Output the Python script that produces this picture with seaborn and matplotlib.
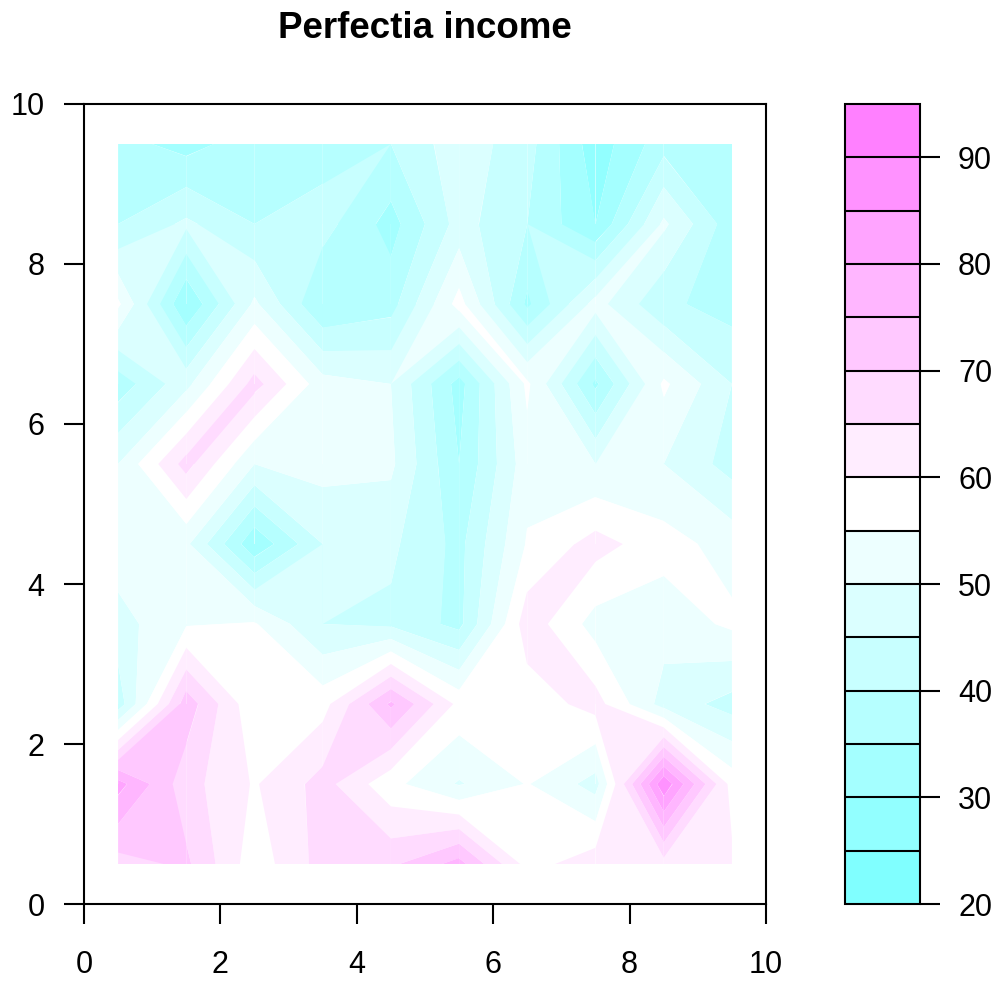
import colorsys

import matplotlib
matplotlib.use("Agg")
import matplotlib.pyplot as plt
from matplotlib.cm import ScalarMappable
from matplotlib.collections import PolyCollection
from matplotlib.colors import BoundaryNorm, ListedColormap
import numpy as np
import seaborn as sns

# Grid cell centres
x_centers = [0.5, 1.5, 2.5, 3.5, 4.5, 5.5, 6.5, 7.5, 8.5, 9.5]
y_centers = [0.5, 1.5, 2.5, 3.5, 4.5, 5.5, 6.5, 7.5, 8.5, 9.5]

# Income per cell, one list per row (y = 0.5 ... 9.5)
income_y0 = [68, 71, 57, 67, 69, 77, 58, 63, 63, 61]
income_y1 = [82, 67, 59.5, 67, 56.5, 49.5, 55.3, 48, 89, 58]
income_y2 = [42, 73, 56, 58, 76, 58.5, 57, 62, 48, 43]
income_y3 = [48, 54.5, 55.5, 45, 44, 38.5, 63, 53, 52, 56]
income_y4 = [53, 51, 31, 45, 46, 38.5, 55.5, 62, 57, 53]
income_y5 = [50, 67, 50, 52, 51, 35, 53, 50, 50, 43]
income_y6 = [37, 48.5, 67, 52, 50, 33, 56, 34, 56, 45]
income_y7 = [56, 30, 51, 35, 38, 57, 34, 52, 41, 38]
income_y8 = [40, 46, 40, 42, 33, 47, 40, 30, 51, 37]
income_y9 = [37, 33, 38, 38, 40, 48, 42, 27, 38, 37]

levels = [20, 25, 30, 35, 40, 45, 50, 55, 60, 65, 70, 75, 80, 85, 90, 95]
colorbar_ticks = [20, 30, 40, 50, 60, 70, 80, 90]
axis_ticks = [0, 2, 4, 6, 8, 10]
title = "Perfectia income"


def cm_colors(n):
    """Cyan-white-magenta palette (same construction as R's cm.colors)."""
    even = n % 2 == 0
    k = n // 2
    l1 = k + 1 - int(even)
    l2 = n - k + int(even)
    cols = []
    for s in np.linspace(0.5, 0.5 / k if even else 0.0, l1):
        cols.append(colorsys.hsv_to_rgb(6 / 12, s, 1.0))
    for s in np.linspace(0.0, 0.5, l2)[1:]:
        cols.append(colorsys.hsv_to_rgb(10 / 12, s, 1.0))
    return cols


def edge_cuts(low, high, p1, z1, p2, z2):
    """Points of one cell edge (p1 -> p2) that bound the band [low, high]."""
    def at(level):
        t = (level - z1) / (z2 - z1)
        return (p1[0] + t * (p2[0] - p1[0]), p1[1] + t * (p2[1] - p1[1]))

    pts = []
    if z1 > z2:
        if z2 > high or z1 < low:
            return pts
        pts.append(p1 if z1 < high else at(high))
        if z2 < low:
            pts.append(at(low))
    elif z1 < z2:
        if z2 < low or z1 > high:
            return pts
        pts.append(p1 if z1 > low else at(low))
        if z2 > high:
            pts.append(at(high))
    elif low <= z1 <= high:
        pts.append(p1)
    return pts


def band_polygons(xs, ys, z, low, high):
    """Per-cell polygons of the region low <= z <= high (linear along edges)."""
    polys = []
    for j in range(len(ys) - 1):
        for i in range(len(xs) - 1):
            corners = [((xs[i], ys[j]), z[j, i]),
                       ((xs[i + 1], ys[j]), z[j, i + 1]),
                       ((xs[i + 1], ys[j + 1]), z[j + 1, i + 1]),
                       ((xs[i], ys[j + 1]), z[j + 1, i])]
            pts = []
            for c in range(4):
                (pa, za), (pb, zb) = corners[c], corners[(c + 1) % 4]
                pts.extend(edge_cuts(low, high, pa, za, pb, zb))
            if len(pts) > 2:
                polys.append(pts)
    return polys


sns.set_theme(style="ticks", rc={
    "axes.edgecolor": "black",
    "axes.linewidth": 1.5,
    "text.color": "black",
    "xtick.color": "black",
    "ytick.color": "black",
    "axes.facecolor": "white",
})
plt.rcParams["font.family"] = ["Liberation Sans", "DejaVu Sans"]

Z = np.array([income_y0, income_y1, income_y2, income_y3, income_y4,
              income_y5, income_y6, income_y7, income_y8, income_y9], float)
palette = cm_colors(len(levels) - 1)
cmap = ListedColormap(palette)
norm = BoundaryNorm(levels, cmap.N)

W, H = 1003, 982
fig = plt.figure(figsize=(W / 100, H / 100), dpi=100)
ax = fig.add_axes([84 / W, 78 / H, 682 / W, 800 / H])
cax = fig.add_axes([845 / W, 78 / H, 75 / W, 800 / H])

# Filled contour bands, drawn from the lowest level upwards
for k in range(len(levels) - 1):
    polys = band_polygons(x_centers, y_centers, Z, levels[k], levels[k + 1])
    if polys:
        ax.add_collection(PolyCollection(polys, facecolors=[palette[k]],
                                         edgecolors="none", linewidths=0,
                                         antialiased=True))

ax.set_xlim(0, 10)
ax.set_ylim(0, 10)
ax.set_xticks(axis_ticks)
ax.set_yticks(axis_ticks)
ax.tick_params(axis="both", direction="out", length=14.4, width=1.5,
               labelsize=22)
ax.tick_params(axis="x", pad=19)
ax.tick_params(axis="y", pad=14)
for sp in ax.spines.values():
    sp.set_visible(True)
    sp.set_linewidth(1.5)

sm = ScalarMappable(norm=norm, cmap=cmap)
cb = fig.colorbar(sm, cax=cax, ticks=colorbar_ticks, drawedges=True)
cb.minorticks_off()
cb.outline.set_linewidth(1.5)
cb.outline.set_edgecolor("black")
cb.dividers.set_color("black")
cb.dividers.set_linewidth(1.5)
cax.tick_params(axis="y", which="major", direction="out", length=14.4,
                width=1.5, labelsize=22, pad=13, right=True, left=False)
cax.tick_params(axis="y", which="minor", length=0)

fig.text(425 / W, 1 - 38 / H, title, ha="center", va="baseline",
         fontsize=26.5, fontweight="bold")

fig.savefig("out.png", dpi=100, facecolor="white")
